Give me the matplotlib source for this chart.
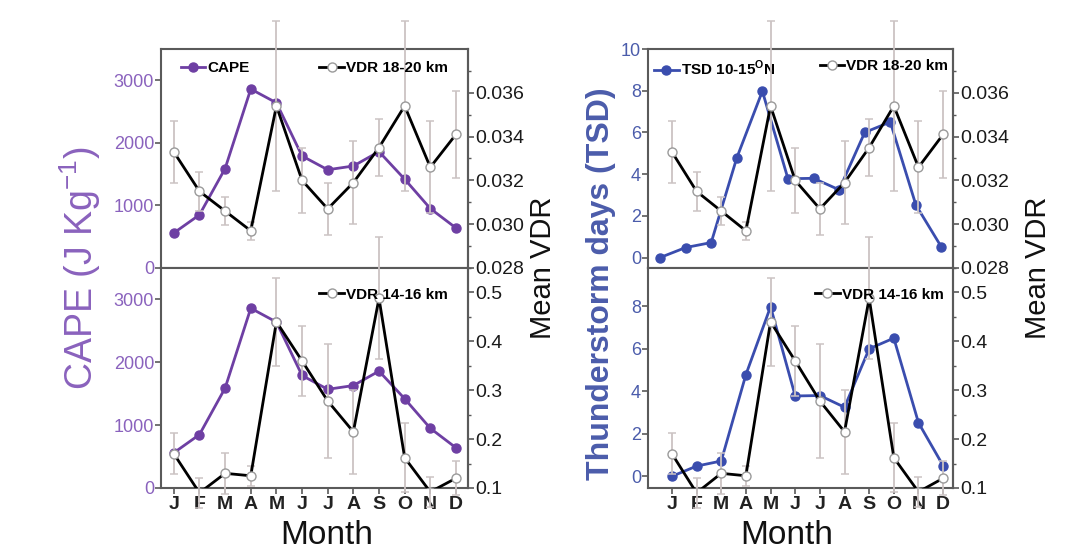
import numpy as np
import matplotlib
matplotlib.use('Agg')
import matplotlib.pyplot as plt
from matplotlib.ticker import FixedLocator, FormatStrFormatter

plt.rcParams['font.family'] = ['Liberation Sans', 'DejaVu Sans']
plt.rcParams['mathtext.fontset'] = 'custom'
plt.rcParams['mathtext.rm'] = 'Liberation Sans'
plt.rcParams['mathtext.bf'] = 'Liberation Sans:bold'

# monthly climatology
months = ['J', 'F', 'M', 'A', 'M', 'J', 'J', 'A', 'S', 'O', 'N', 'D']
month_num = np.arange(1, 13)

cape = [560, 850, 1590, 2860, 2640, 1790, 1570, 1630, 1860, 1420, 950, 640]
tsd = [0.0, 0.48, 0.72, 4.78, 7.98, 3.78, 3.8, 3.25, 6.0, 6.5, 2.52, 0.5]

vdr_18_20 = [0.0333, 0.0315, 0.0306, 0.0297, 0.0354, 0.0320,
             0.0307, 0.0319, 0.0335, 0.0354, 0.0326, 0.0341]
vdr_18_20_err = [0.0014, 0.0009, 0.00065, 0.0004, 0.0039, 0.0015,
                 0.0012, 0.0019, 0.0013, 0.0039, 0.0021, 0.0020]

vdr_14_16 = [0.170, 0.090, 0.130, 0.125, 0.440, 0.360,
             0.278, 0.215, 0.488, 0.162, 0.092, 0.120]
vdr_14_16_err = [0.042, 0.030, 0.042, 0.020, 0.090, 0.072,
                 0.116, 0.086, 0.125, 0.070, 0.030, 0.035]

PURPLE = '#6e3fa3'
PURPLE_TXT = '#8a62bd'
BLUE = '#3a4dae'
BLUE_TXT = '#4b5cab'
SPINE = '#5a5a5a'
ERR = '#cbc3c3'

W, H = 1069, 549
fig = plt.figure(figsize=(W / 100, H / 100), dpi=100)


def rect(x0, x1, y0, y1):
    return [x0 / W, 1 - y1 / H, (x1 - x0) / W, (y1 - y0) / H]


def style_axis(ax, color):
    for s in ax.spines.values():
        s.set_color(SPINE)
        s.set_linewidth(1.5)
    ax.tick_params(axis='y', colors=SPINE, labelcolor=color, length=4,
                   width=1.2, labelsize=13, pad=1)
    ax.tick_params(axis='x', colors=SPINE, labelcolor='#222222', length=4,
                   width=1.2, labelsize=14, pad=2)


def right_axis(ax, xlim, ylim, major, minor, fmt):
    ax2 = fig.add_axes(ax.get_position(), facecolor='none')
    ax2.set_xlim(*xlim)
    ax2.set_ylim(*ylim)
    ax2.xaxis.set_visible(False)
    ax2.yaxis.tick_right()
    for s in ['left', 'top', 'bottom']:
        ax2.spines[s].set_visible(False)
    ax2.spines['right'].set_color(SPINE)
    ax2.spines['right'].set_linewidth(1.5)
    ax2.yaxis.set_major_locator(FixedLocator(major))
    ax2.yaxis.set_minor_locator(FixedLocator(minor))
    ax2.yaxis.set_major_formatter(FormatStrFormatter(fmt))
    ax2.tick_params(axis='y', which='major', colors=SPINE, labelcolor='#1a1a1a',
                    length=4, width=1.2, labelsize=14, pad=1)
    ax2.tick_params(axis='y', which='minor', colors=SPINE, length=2.5, width=1)
    return ax2


def draw_vdr(ax2, x, y, err, label):
    ax2.errorbar(x, y, yerr=err, fmt='none', ecolor=ERR, elinewidth=1.3,
                 capsize=3, capthick=1.1, clip_on=False, zorder=1)
    ax2.plot(x, y, '-', color='black', lw=2, marker='o', ms=6.5,
             mfc='white', mec='#9a9a9a', mew=1, label=label, zorder=3)


def draw_main(ax, y, color, label):
    ax.plot(month_num, y, '-', color=color, lw=2, marker='o', ms=6.5,
            mfc=color, mec=color, label=label, zorder=2)


def add_legend(ax, loc, anchor):
    ax.legend(loc=loc, bbox_to_anchor=anchor, frameon=False,
              prop={'weight': 'bold', 'size': 11}, handlelength=1.6,
              handletextpad=0.15, borderaxespad=0.0, borderpad=0.0)


rows = [(49, 268), (268, 488)]
# legend anchors (axes fraction), top row sits a bit higher than bottom row
leg_y = [0.945, 0.91]

# ---- left column: CAPE ----
lx = (161, 468)
cape_xlim = (0.5, 12.47)
for row, (y0, y1) in enumerate(rows):
    ax = fig.add_axes(rect(lx[0], lx[1], y0, y1))
    ax.set_xlim(*cape_xlim)
    ax.set_ylim(0, 3500)
    ax.set_yticks([0, 1000, 2000, 3000])
    ax.set_xticks(month_num)
    style_axis(ax, PURPLE_TXT)
    draw_main(ax, cape, PURPLE, 'CAPE')
    if row == 0:
        ax.set_xticklabels([])
        ax2 = right_axis(ax, cape_xlim, (0.028, 0.038),
                         [0.028, 0.030, 0.032, 0.034, 0.036],
                         [0.029, 0.031, 0.033, 0.035, 0.037], '%.3f')
        draw_vdr(ax2, month_num, vdr_18_20, vdr_18_20_err, 'VDR 18-20 km')
        add_legend(ax, 'upper left', (0.065, leg_y[row]))
    else:
        ax.set_xticklabels(months, fontweight='bold')
        ax2 = right_axis(ax, cape_xlim, (0.1, 0.55),
                         [0.1, 0.2, 0.3, 0.4, 0.5],
                         [0.15, 0.25, 0.35, 0.45, 0.55], '%.1f')
        draw_vdr(ax2, month_num, vdr_14_16, vdr_14_16_err, 'VDR 14-16 km')
    add_legend(ax2, 'upper right', (0.935, leg_y[row]))

# ---- right column: thunderstorm days ----
rx = (648, 953)
tsd_xlim_top = (0.53, 12.45)
vdr_xlim = (0.03, 12.4)
for row, (y0, y1) in enumerate(rows):
    ax = fig.add_axes(rect(rx[0], rx[1], y0, y1))
    if row == 0:
        ax.set_xlim(*tsd_xlim_top)
        ax.set_ylim(-0.5, 10)
        ax.set_yticks([0, 2, 4, 6, 8, 10])
    else:
        ax.set_xlim(*vdr_xlim)
        ax.set_ylim(-0.55, 9.8)
        ax.set_yticks([0, 2, 4, 6, 8])
    ax.set_xticks(month_num)
    style_axis(ax, BLUE_TXT)
    draw_main(ax, tsd, BLUE, r'TSD 10-15$^{\mathbf{O}}$N')
    if row == 0:
        ax.set_xticklabels([])
        ax2 = right_axis(ax, vdr_xlim, (0.028, 0.038),
                         [0.028, 0.030, 0.032, 0.034, 0.036],
                         [0.029, 0.031, 0.033, 0.035, 0.037], '%.3f')
        draw_vdr(ax2, month_num, vdr_18_20, vdr_18_20_err, 'VDR 18-20 km')
        add_legend(ax, 'upper left', (0.02, leg_y[row] + 0.01))
        add_legend(ax2, 'upper right', (0.985, leg_y[row] + 0.01))
    else:
        ax.set_xticklabels(months, fontweight='bold')
        ax2 = right_axis(ax, vdr_xlim, (0.1, 0.55),
                         [0.1, 0.2, 0.3, 0.4, 0.5],
                         [0.15, 0.25, 0.35, 0.45, 0.55], '%.1f')
        draw_vdr(ax2, month_num, vdr_14_16, vdr_14_16_err, 'VDR 14-16 km')
        add_legend(ax2, 'upper right', (0.97, leg_y[row]))

# shared axis titles
mid = 1 - 268 / H
fig.text(80 / W, mid, r'CAPE (J Kg$^{-1}$)', rotation=90, ha='center',
         va='center', fontsize=27, color=PURPLE_TXT)
fig.text(543 / W, mid, 'Mean VDR', rotation=90, ha='center', va='center',
         fontsize=21, color='#111111')
fig.text(601 / W, 1 - 284 / H, 'Thunderstorm days (TSD)', rotation=90,
         ha='center', va='center', fontsize=23, fontweight='bold',
         color=BLUE_TXT)
fig.text(1038 / W, mid, 'Mean VDR', rotation=90, ha='center', va='center',
         fontsize=21, color='#111111')
fig.text(327 / W, 1 - 535 / H, 'Month', ha='center', va='center', fontsize=24,
         color='#111111')
fig.text(787 / W, 1 - 535 / H, 'Month', ha='center', va='center', fontsize=24,
         color='#111111')

fig.savefig('out.png', dpi=100)
